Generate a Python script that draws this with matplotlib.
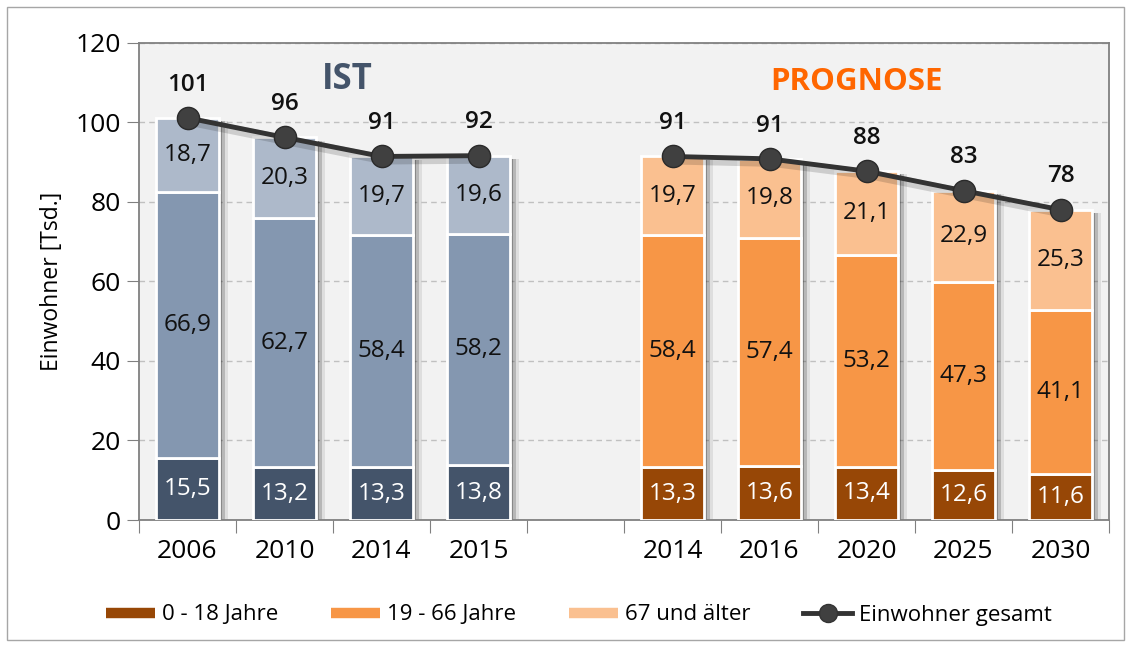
import numpy as np
import matplotlib
matplotlib.use("Agg")
import matplotlib.pyplot as plt
from matplotlib.lines import Line2D
from matplotlib.patches import Rectangle

plt.rcParams['font.family'] = ['Open Sans', 'DejaVu Sans']

# Daten: IST und PROGNOSE (Einwohner in Tsd.)
ist_years = ["2006", "2010", "2014", "2015"]
ist_jung = [15.5, 13.2, 13.3, 13.8]
ist_mitte = [66.9, 62.7, 58.4, 58.2]
ist_alt = [18.7, 20.3, 19.7, 19.6]

prog_years = ["2014", "2016", "2020", "2025", "2030"]
prog_jung = [13.3, 13.6, 13.4, 12.6, 11.6]
prog_mitte = [58.4, 57.4, 53.2, 47.3, 41.1]
prog_alt = [19.7, 19.8, 21.1, 22.9, 25.3]

legend_labels = ["0 - 18 Jahre", "19 - 66 Jahre", "67 und älter", "Einwohner gesamt"]

ist_cols = ["#44546a", "#8497b0", "#adb9ca"]
prog_cols = ["#974706", "#f79646", "#fac090"]

fig = plt.figure(figsize=(11.31, 6.47), dpi=100)
ax = fig.add_axes([139/1131, 1-520/647, (1109-139)/1131, (520-42.7)/647])
ax.set_facecolor("#f2f2f2")

# Rahmen um das ganze Bild
fig.patches.append(Rectangle((7/1131, 7/647), 1117/1131, 633/647, transform=fig.transFigure,
                             fill=False, edgecolor="#a6a6a6", lw=1))

w = 0.65
ist_x = np.arange(4)
prog_x = np.arange(5) + 5


def draw_group(xs, jung, mitte, alt, cols):
    jung = np.array(jung); mitte = np.array(mitte); alt = np.array(alt)
    total = jung + mitte + alt
    # Schatten
    for off, a in [(0.03, 0.35), (0.06, 0.22), (0.09, 0.1)]:
        ax.bar(xs + off, total - 0.8, w, bottom=0, color="#303030", alpha=a,
               linewidth=0, zorder=2)
    ax.bar(xs, jung, w, color=cols[0], edgecolor="white", linewidth=2, zorder=3)
    ax.bar(xs, mitte, w, bottom=jung, color=cols[1], edgecolor="white", linewidth=2, zorder=3)
    ax.bar(xs, alt, w, bottom=jung + mitte, color=cols[2], edgecolor="white", linewidth=2, zorder=3)
    for i, x in enumerate(xs):
        ax.text(x, jung[i] / 2, f"{jung[i]:.1f}".replace(".", ","), ha="center", va="center",
                color="white", fontsize=17.5, zorder=5)
        ax.text(x, jung[i] + mitte[i] / 2, f"{mitte[i]:.1f}".replace(".", ","), ha="center",
                va="center", color="#111111", fontsize=17.5, zorder=5)
        ax.text(x, jung[i] + mitte[i] + alt[i] / 2, f"{alt[i]:.1f}".replace(".", ","),
                ha="center", va="center", color="#111111", fontsize=17.5, zorder=5)
        ax.annotate(f"{total[i]:.0f}", (x, total[i]), xytext=(0, 24), textcoords="offset points",
                    ha="center", va="center", fontsize=17.5, fontweight="semibold",
                    color="#111111", zorder=6)
    # Linie mit Schatten
    ax.plot(xs + 0.03, total - 0.8, color="#000000", alpha=0.15, lw=7, zorder=3.5,
            solid_capstyle="round")
    ax.plot(xs, total, color="#333333", lw=3.5, marker="o", markersize=16,
            markerfacecolor="#404040", markeredgecolor="#2a2a2a", zorder=4)


draw_group(ist_x, ist_jung, ist_mitte, ist_alt, ist_cols)
draw_group(prog_x, prog_jung, prog_mitte, prog_alt, prog_cols)

ax.set_xlim(-0.5, 9.5)
ax.set_ylim(0, 120)
ax.set_yticks(range(0, 121, 20))
ax.yaxis.grid(True, linestyle=(0, (4, 3)), color="#c0c0c0", lw=1)
ax.set_axisbelow(True)

ax.set_xticks(np.arange(-0.5, 10, 1))
ax.set_xticklabels([])
ax.set_xticks(list(ist_x) + list(prog_x), minor=True)
ax.set_xticklabels(ist_years + prog_years, minor=True)
ax.tick_params(axis="x", which="major", length=9, color="#808080")
ax.tick_params(axis="x", which="minor", length=0, labelsize=19, pad=14)
ax.tick_params(axis="y", length=9, color="#808080", labelsize=19, pad=4)

for s in ax.spines.values():
    s.set_color("#808080")
    s.set_linewidth(1.3)

ax.set_ylabel("Einwohner [Tsd.]", fontsize=16.5, labelpad=8)

ax.text(1.65, 110.5, "IST", ha="center", va="center", fontsize=25, fontweight="bold",
        color="#44546a")
ax.text(6.9, 110, "PROGNOSE", ha="center", va="center", fontsize=22.5, fontweight="bold",
        color="#ff6600")

handles = [Line2D([], [], color=prog_cols[0], lw=7.5, solid_capstyle="butt"),
           Line2D([], [], color=prog_cols[1], lw=7.5, solid_capstyle="butt"),
           Line2D([], [], color=prog_cols[2], lw=7.5, solid_capstyle="butt"),
           Line2D([], [], color="#333333", lw=3.5, marker="o", markersize=13,
                  markerfacecolor="#404040")]
fig.legend(handles, legend_labels, loc="center", bbox_to_anchor=(579/1131, 1-615/647),
           ncol=4, frameon=False, fontsize=16, handlelength=2.2, handletextpad=0.3,
           columnspacing=2.4)

fig.savefig("out.png", dpi=100)
